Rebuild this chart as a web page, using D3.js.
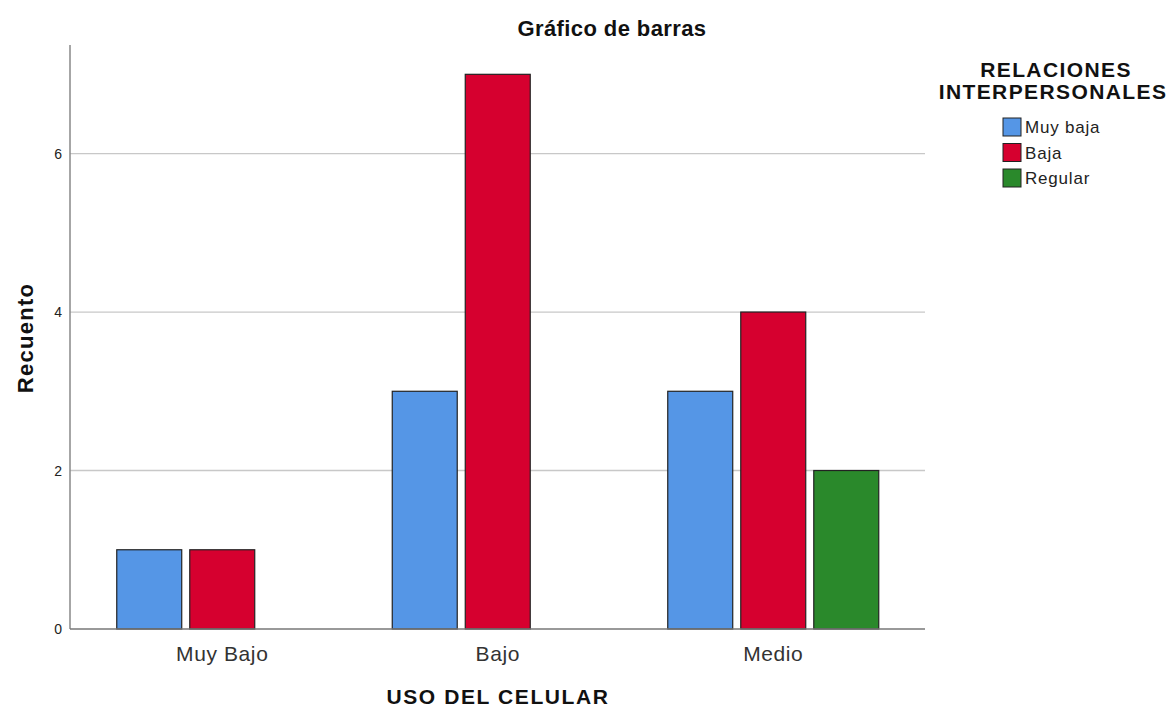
<!DOCTYPE html>
<html><head><meta charset="utf-8">
<script src="https://cdn.jsdelivr.net/npm/d3@7"></script>
<style>body{margin:0;background:#fff}svg{display:block;font-family:"Liberation Sans",Arial,sans-serif}</style>
</head><body>
<svg id="c" width="1174" height="709"></svg>
<script>
const categories = ["Muy Bajo", "Bajo", "Medio"];
const seriesNames = ["Muy baja", "Baja", "Regular"];
const muyBaja = [1, 3, 3];
const baja = [1, 7, 4];
const regular = [0, 0, 2];
const yTicks = [0, 2, 4, 6];
const colors = ["#5596e6", "#d6002f", "#2a892b"];

const values = [muyBaja, baja, regular];
const data = [];
categories.forEach((c, i) => seriesNames.forEach((s, j) => {
  if (values[j][i] > 0) data.push({cat: c, ser: s, v: values[j][i], k: j});
}));

const svg = d3.select("#c");
const L = 70, R = 925, T = 45, B = 629;
const y = d3.scaleLinear().domain([0, 7.37]).range([B, T]);
const x = d3.scaleBand().domain(categories).range([84.5, 911]).padding(0);
const xi = d3.scaleBand().domain(seriesNames).range([32.25, 243.25]).paddingInner(0.11);

// grid
svg.append("g").selectAll("line").data(yTicks.filter(d => d > 0)).join("line")
  .attr("x1", L).attr("x2", R).attr("y1", d => y(d)).attr("y2", d => y(d))
  .attr("stroke", "#c8c8c8").attr("stroke-width", 1.3);

// bars
svg.append("g").selectAll("rect").data(data).join("rect")
  .attr("x", d => x(d.cat) + xi(d.ser))
  .attr("y", d => y(d.v))
  .attr("width", xi.bandwidth())
  .attr("height", d => B - y(d.v))
  .attr("fill", d => colors[d.k])
  .attr("stroke", "#222").attr("stroke-width", 1.2);

// axes
const ya = svg.append("g").attr("transform", `translate(${L},0)`)
  .call(d3.axisLeft(y).tickValues(yTicks).tickSize(0).tickPadding(8));
ya.select(".domain").remove();
ya.selectAll("text").attr("font-size", 14).attr("fill", "#222").attr("font-family", "Liberation Sans, Arial");
svg.append("line").attr("x1", L).attr("x2", L).attr("y1", T).attr("y2", B)
  .attr("stroke", "#888").attr("stroke-width", 1.5);

const xa = svg.append("g").attr("transform", `translate(0,${B})`)
  .call(d3.axisBottom(x).tickSize(0).tickPadding(17));
xa.select(".domain").remove();
xa.selectAll("text").attr("font-size", 21).attr("letter-spacing", 0.6).attr("fill", "#333").attr("font-family", "Liberation Sans, Arial");
svg.append("line").attr("x1", L).attr("x2", R).attr("y1", B).attr("y2", B)
  .attr("stroke", "#777").attr("stroke-width", 1.5);

// titles
svg.append("text").attr("x", 612).attr("y", 36).attr("text-anchor", "middle")
  .attr("font-size", 22).attr("letter-spacing", 0.4).attr("font-weight", "bold").attr("fill", "#111").text("Gráfico de barras");
svg.append("text").attr("transform", "translate(33,338) rotate(-90)").attr("text-anchor", "middle")
  .attr("font-size", 22).attr("letter-spacing", 1.3).attr("font-weight", "bold").attr("fill", "#111").text("Recuento");
svg.append("text").attr("x", 498).attr("y", 704).attr("text-anchor", "middle")
  .attr("font-size", 21).attr("letter-spacing", 1.6).attr("font-weight", "bold").attr("fill", "#111").text("USO DEL CELULAR");

// legend
const lg = svg.append("g");
lg.append("text").attr("x", 1056).attr("y", 77).attr("text-anchor", "middle")
  .attr("font-size", 21).attr("letter-spacing", 1.4).attr("font-weight", "bold").attr("fill", "#111").text("RELACIONES");
lg.append("text").attr("x", 1053).attr("y", 99).attr("text-anchor", "middle")
  .attr("font-size", 21).attr("letter-spacing", 1.4).attr("font-weight", "bold").attr("fill", "#111").text("INTERPERSONALES");
const items = lg.selectAll("g.it").data(seriesNames).join("g").attr("class", "it")
  .attr("transform", (d, i) => `translate(1003,${118 + i * 25.5})`);
items.append("rect").attr("width", 18).attr("height", 18)
  .attr("fill", (d, i) => colors[i]).attr("stroke", "#222").attr("stroke-width", 1);
items.append("text").attr("x", 22).attr("y", 15).attr("font-size", 17).attr("letter-spacing", 0.8).attr("fill", "#222").text(d => d);
</script>
</body></html>
